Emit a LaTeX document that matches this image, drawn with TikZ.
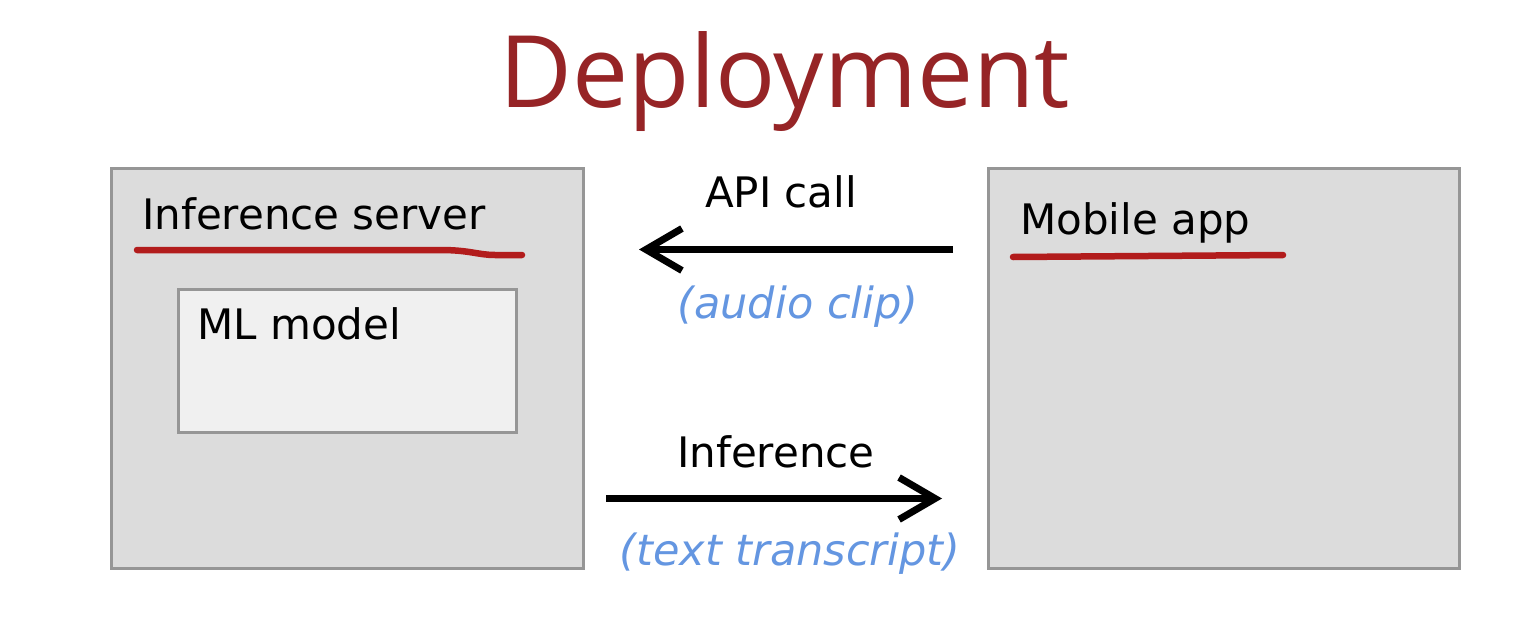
\documentclass[tikz,border=0pt]{standalone}
\usepackage{fontspec}
\setmainfont{DejaVu Sans}
\newfontfamily\titlefont{Open Sans}
\newfontfamily\notefont{DejaVu Sans}
\usetikzlibrary{arrows.meta,calc}
\definecolor{titlered}{RGB}{150,36,38}
\definecolor{markred}{RGB}{178,28,28}
\definecolor{boxgray}{RGB}{220,220,220}
\definecolor{innergray}{RGB}{240,240,240}
\definecolor{edgegray}{RGB}{150,150,150}
\definecolor{noteblue}{RGB}{100,150,225}
\tikzset{
  panel/.style={draw=edgegray, line width=3pt, fill=boxgray, rectangle, inner sep=0pt},
  subpanel/.style={draw=edgegray, line width=3pt, fill=innergray, rectangle, inner sep=0pt},
  label/.style={inner sep=0pt, anchor=base west, font=\fontsize{42}{50}\selectfont},
  flowlabel/.style={inner sep=0pt, anchor=base, font=\fontsize{42}{50}\selectfont},
  note/.style={inner sep=0pt, anchor=base, text=noteblue, font=\notefont\itshape\fontsize{43}{50}\selectfont},
  marker/.style={draw=markred, line width=6.5pt, line cap=round},
  flow/.style={line width=7pt, -{Straight Barb[length=36pt, width=42pt, line width=7pt]}}
}
\begin{document}
\begin{tikzpicture}[x=1pt, y=-1pt]
  \useasboundingbox[fill=white] (0,0) rectangle (1514,642);

  % heading
  \node[inner sep=0pt, anchor=base, text=titlered, font=\titlefont\fontsize{100}{115}\selectfont] (title) at (785,107) {Deployment};

  % server side
  \node[panel, minimum width=472pt, minimum height=400pt, anchor=north west] (server) at (110,167) {};
  \node[label] (servertext) at (142,229) {Inference server};
  \draw[marker] (137,250) -- (440,250) .. controls (470,250) and (478,255) .. (495,255) -- (522,255);
  \node[subpanel, minimum width=338pt, minimum height=143pt, anchor=north west] (model) at (177,288) {};
  \node[label] (modeltext) at (197,339) {ML model};

  % client side
  \node[panel, minimum width=471pt, minimum height=400pt, anchor=north west] (app) at (987,167) {};
  \node[label] (apptext) at (1020,234) {Mobile app};
  \draw[marker] (1013,257) -- (1283,255);

  % request and response
  \coordinate (reqstart) at ($(app.west)+(-34,-119)$);
  \coordinate (reqend) at ($(server.east)+(54,-119)$);
  \draw[flow] (reqstart) -- (reqend);
  \node[flowlabel] (reqtext) at (781,207) {API call};
  \node[note] (reqnote) at (798,318) {(audio clip)};

  \coordinate (resstart) at ($(server.east)+(21,130)$);
  \coordinate (resend) at ($(app.west)+(-45,130)$);
  \draw[flow] (resstart) -- (resend);
  \node[flowlabel] (restext) at (776,467) {Inference};
  \node[note] (resnote) at (790,565) {(text transcript)};
\end{tikzpicture}
\end{document}
